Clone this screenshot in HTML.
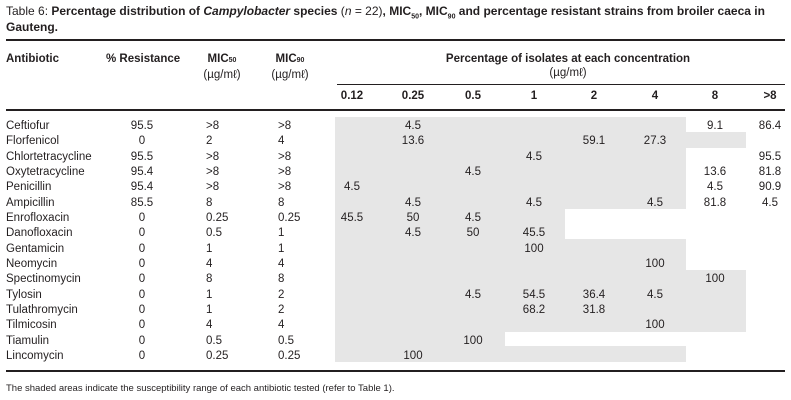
<!DOCTYPE html>
<html><head><meta charset="utf-8"><style>
body{margin:0;background:#fff;width:791px;height:400px;overflow:hidden;position:relative;font-family:"Liberation Sans",Arial,sans-serif;color:#231f20}
.t{position:absolute;white-space:nowrap;font-size:11.5px;line-height:14px}
.b{font-weight:bold}
.line{position:absolute;background:#231f20}
.shade{position:absolute;background:#e6e6e6}
</style></head><body>
<div class="t" style="left:6px;top:4px;font-size:12px">Table 6: <b>Percentage distribution of <i>Campylobacter</i> species</b> (<i>n</i> = 22)<b>, MIC<sub style="font-size:7px">50</sub>, MIC<sub style="font-size:7px">90</sub> and percentage resistant strains from broiler caeca in</b></div>
<div class="t b" style="left:6px;top:20px;font-size:12px">Gauteng.</div>
<div class="line" style="left:6px;top:39px;width:779px;height:2px"></div>
<div class="t b" style="left:6px;top:52px">Antibiotic</div>
<div class="t b" style="left:106px;top:52px">% Resistance</div>
<div class="t" style="left:222px;top:52px;transform:translateX(-50%);text-align:center"><b>MIC<span style="font-size:7px">50</span></b><br>(µg/mℓ)</div>
<div class="t" style="left:290px;top:52px;transform:translateX(-50%);text-align:center"><b>MIC<span style="font-size:7px">90</span></b><br>(µg/mℓ)</div>
<div class="t" style="left:568px;top:52px;transform:translateX(-50%);text-align:center;line-height:14px"><b>Percentage of isolates at each concentration</b><br>(µg/mℓ)</div>
<div class="line" style="left:337px;top:84px;width:448px;height:1px"></div>
<div class="line" style="left:6px;top:109px;width:779px;height:2px"></div>
<div class="line" style="left:6px;top:370px;width:779px;height:2px"></div>
<div class="t" style="left:6px;top:382px;font-size:9.5px">The shaded areas indicate the susceptibility range of each antibiotic tested (refer to Table 1).</div>
<div id="tbl"></div>
<script>
const concLabels=["0.12","0.25","0.5","1","2","4","8",">8"];
const names=["Ceftiofur","Florfenicol","Chlortetracycline","Oxytetracycline","Penicillin","Ampicillin","Enrofloxacin","Danofloxacin","Gentamicin","Neomycin","Spectinomycin","Tylosin","Tulathromycin","Tilmicosin","Tiamulin","Lincomycin"];
const resistance=["95.5","0","95.5","95.4","95.4","85.5","0","0","0","0","0","0","0","0","0","0"];
const mic50=[">8","2",">8",">8",">8","8","0.25","0.5","1","4","8","1","1","4","0.5","0.25"];
const mic90=[">8","4",">8",">8",">8","8","0.25","1","1","4","8","2","2","4","0.5","0.25"];
const cells=[
["","4.5","","","","","9.1","86.4"],
["","13.6","","","59.1","27.3","",""],
["","","","4.5","","","","95.5"],
["","","4.5","","","","13.6","81.8"],
["4.5","","","","","","4.5","90.9"],
["","4.5","","4.5","","4.5","81.8","4.5"],
["45.5","50","4.5","","","","",""],
["","4.5","50","45.5","","","",""],
["","","","100","","","",""],
["","","","","","100","",""],
["","","","","","","100",""],
["","","4.5","54.5","36.4","4.5","",""],
["","","","68.2","31.8","","",""],
["","","","","","100","",""],
["","","100","","","","",""],
["","100","","","","","",""]];
const shadeEndCol=[6,7,6,6,6,6,4,4,6,6,7,7,7,7,3,6];
const colEdges=[335,392,448,505,565,624,686,746,785];
const colCenters=[352,413,473,534,594,655,715,770];
const tbl=document.getElementById('tbl');
const y0=126, dy=15.33;
function add(html,style,name){const d=document.createElement('div');d.className='t';d.innerHTML=html;d.style.cssText=style;


tbl.appendChild(d);return d;}
concLabels.forEach((c,j)=>{
 add(c,`left:${colCenters[j]}px;top:89px;transform:translateX(-50%);font-weight:bold`,'conc-header-'+j);
});
names.forEach((n,i)=>{
 const cy=y0+i*dy;
 const s=document.createElement('div');s.className='shade';
 s.style.cssText=`left:${colEdges[0]}px;top:${cy-9.5}px;width:${colEdges[shadeEndCol[i]]-colEdges[0]}px;height:${dy+0.4}px`;
 
 
 tbl.appendChild(s);
});
names.forEach((n,i)=>{
 const top=y0+i*dy-7;
 add(n,`left:6px;top:${top}px`,'antibiotic-name');
 add(resistance[i],`left:142px;top:${top}px;transform:translateX(-50%)`,'resistance-value');
 add(mic50[i],`left:206px;top:${top}px`,'mic50-value');
 add(mic90[i],`left:278px;top:${top}px`,'mic90-value');
 cells[i].forEach((v,j)=>{ if(v) add(v,`left:${colCenters[j]}px;top:${top}px;transform:translateX(-50%)`,'isolate-percentage'); });
});
</script>
</body></html>
